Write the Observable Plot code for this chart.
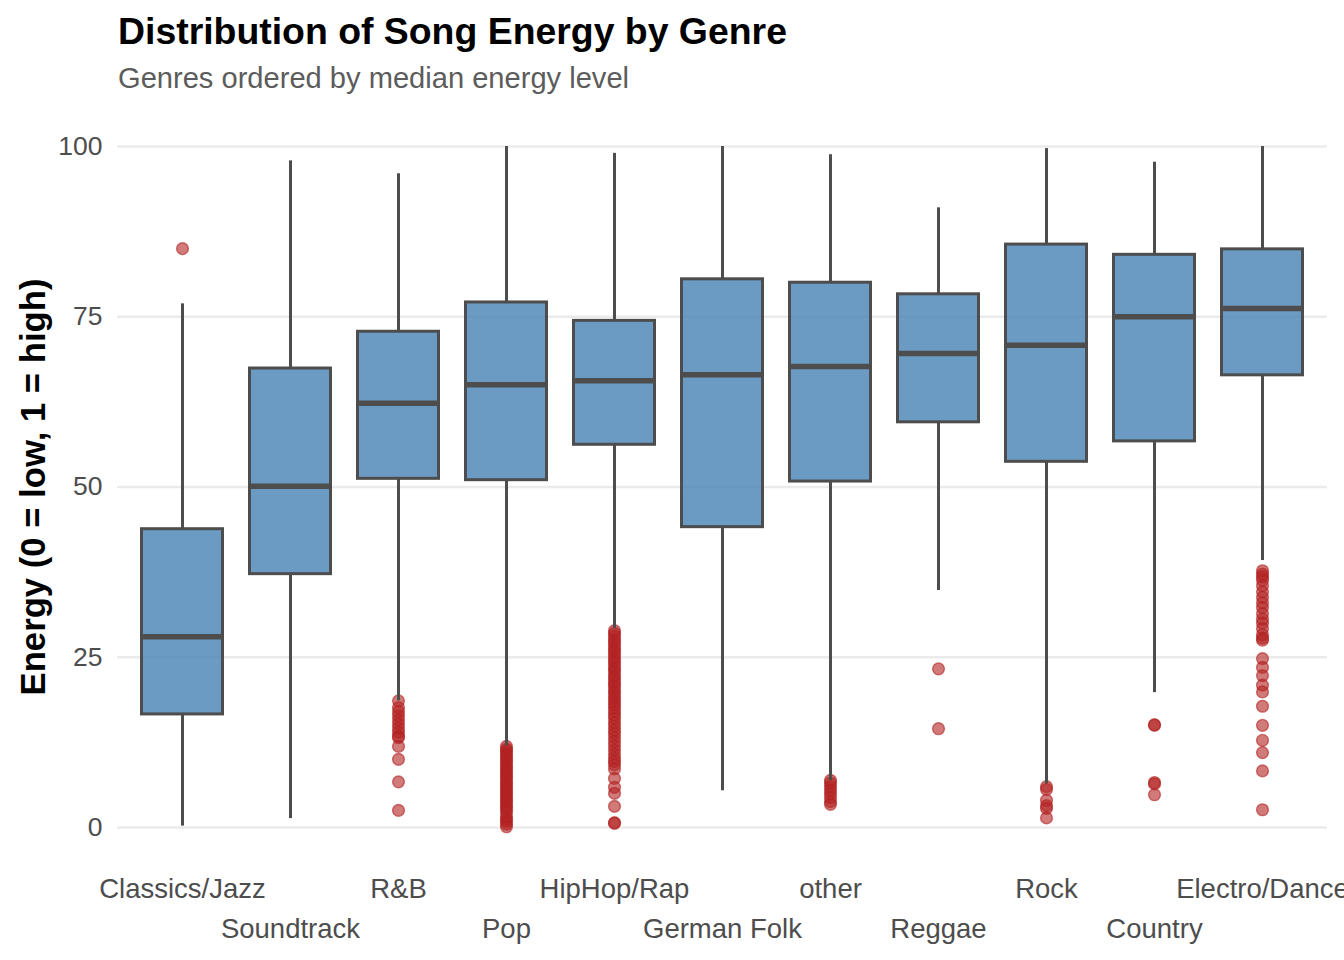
<!DOCTYPE html>
<html>
<head>
<meta charset="utf-8">
<script src="https://cdn.jsdelivr.net/npm/d3@7"></script>
<script src="https://cdn.jsdelivr.net/npm/@observablehq/plot@0.6"></script>
<style>
  body { margin: 0; background: #fff; font-family: "Liberation Sans", Arial, sans-serif; }
  #wrap { position: relative; width: 1344px; height: 960px; overflow: hidden; }
  #title { position: absolute; left: 118px; top: 13px; font-size: 37.4px; line-height: 37px; font-weight: bold; color: #000; white-space: nowrap; }
  #subtitle { position: absolute; left: 118px; top: 64px; font-size: 29.1px; line-height: 29px; color: #5c5c5c; white-space: nowrap; }
  #chart { position: absolute; left: 0; top: 100px; }
</style>
</head>
<body>
<div id="wrap">
  <div id="title">Distribution of Song Energy by Genre</div>
  <div id="subtitle">Genres ordered by median energy level</div>
  <div id="chart"></div>
</div>
<script>
const genres = ["Classics/Jazz", "Soundtrack", "R&B", "Pop", "HipHop/Rap", "German Folk", "other", "Reggae", "Rock", "Country", "Electro/Dance"];
const whiskerLow  = [0.2, 1.3, 18.6, 12.0, 29.2, 5.4, 6.9, 34.8, 6.4, 19.8, 39.2];
const q1          = [16.6, 37.2, 51.2, 51.0, 56.2, 44.1, 50.8, 59.5, 53.7, 56.7, 66.4];
const median      = [28.0, 50.1, 62.3, 65.0, 65.6, 66.5, 67.7, 69.6, 70.8, 75.0, 76.2];
const q3          = [43.8, 67.4, 72.8, 77.1, 74.4, 80.5, 80.0, 78.3, 85.6, 84.1, 84.9];
const whiskerHigh = [76.9, 97.9, 96.0, 100.0, 99.0, 100.0, 98.8, 91.0, 99.7, 97.7, 100.0];

const outliersClassics = [85.0];
const outliersRnB = [18.6, 17.6, 17.0, 16.4, 15.8, 15.2, 14.6, 14.0, 13.4, 13.2, 11.9, 10.0, 6.7, 2.5];
const outliersPop = [11.9, 11.5, 11.2, 10.8, 10.5, 10.1, 9.8, 9.4, 9.0, 8.7, 8.3, 8.0, 7.6, 7.3, 6.9, 6.5, 6.2, 5.8, 5.5, 5.1, 4.8, 4.4, 4.0, 3.7, 3.3, 3.0, 2.6, 2.2, 1.6, 1.2, 0.9, 0.5, 0.1];
const outliersHipHop = [28.9, 28.5, 28.1, 27.6, 27.2, 26.8, 26.3, 25.9, 25.5, 25.0, 24.6, 24.2, 23.7, 23.3, 22.9, 22.4, 22.0, 21.5, 21.1, 20.7, 20.2, 19.8, 19.3, 18.9, 18.4, 18.0, 17.5, 17.0, 16.5, 16.0, 15.4, 14.9, 14.3, 13.8, 13.2, 12.6, 12.0, 11.4, 10.8, 10.2, 9.7, 9.2, 8.6, 7.2, 5.9, 5.0, 3.1, 0.6, 0.7];
const outliersOther = [6.9, 6.5, 6.0, 5.5, 5.0, 4.4, 3.8, 3.4];
const outliersReggae = [23.3, 14.5];
const outliersRock = [6.0, 5.6, 4.0, 3.2, 2.8, 1.4];
const outliersCountry = [15.1, 15.0, 6.6, 6.4, 4.8];
const outliersElectro = [37.7, 37.2, 36.8, 36.3, 35.5, 34.6, 33.8, 33.0, 32.3, 31.4, 30.6, 30.0, 29.2, 28.3, 27.8, 27.5, 24.8, 23.5, 22.3, 20.9, 19.9, 17.8, 15.0, 12.8, 11.0, 8.3, 2.6];

const outlierGroups = [
  ["Classics/Jazz", outliersClassics],
  ["R&B", outliersRnB],
  ["Pop", outliersPop],
  ["HipHop/Rap", outliersHipHop],
  ["other", outliersOther],
  ["Reggae", outliersReggae],
  ["Rock", outliersRock],
  ["Country", outliersCountry],
  ["Electro/Dance", outliersElectro]
];

const yTicks = [0, 25, 50, 75, 100];
const yLabel = "Energy (0 = low, 1 = high)";

const stats = genres.map((g, i) => ({
  genre: g, lo: whiskerLow[i], q1: q1[i], med: median[i], q3: q3[i], hi: whiskerHigh[i]
}));
const outliers = outlierGroups.flatMap(([g, vals]) => vals.map(v => ({genre: g, energy: v})));

const inset = 13.5;
const boxStroke = "#4D4D4D";

const chart = Plot.plot({
  width: 1344,
  height: 860,
  marginTop: 12,
  marginBottom: 99,
  marginLeft: 117,
  marginRight: 17,
  style: {fontFamily: "'Liberation Sans', Arial, sans-serif", fontSize: "26.5px", background: "white"},
  x: {type: "band", domain: genres, paddingInner: 0, paddingOuter: 0.1, axis: null},
  y: {domain: [-5, 105], axis: null},
  marks: [
    Plot.ruleY(yTicks, {stroke: "#EBEBEB", strokeWidth: 2.6}),
    Plot.dot(outliers, {x: "genre", y: "energy", r: 5.9, fill: "firebrick", fillOpacity: 0.6, stroke: "firebrick", strokeOpacity: 0.6, strokeWidth: 1.4}),
    Plot.ruleX(stats, {x: "genre", y1: "lo", y2: "q1", stroke: boxStroke, strokeWidth: 3}),
    Plot.ruleX(stats, {x: "genre", y1: "q3", y2: "hi", stroke: boxStroke, strokeWidth: 3}),
    Plot.barY(stats, {x: "genre", y1: "q1", y2: "q3", fill: "steelblue", fillOpacity: 0.8, stroke: boxStroke, strokeWidth: 3, insetLeft: inset, insetRight: inset}),
    Plot.tickY(stats, {x: "genre", y: "med", stroke: boxStroke, strokeWidth: 5.5, insetLeft: inset, insetRight: inset}),
    Plot.axisY({ticks: yTicks, tickSize: 0, tickPadding: 15, color: "#4D4D4D", fontSize: 26.5, label: null}),
    Plot.axisX({ticks: genres.filter((d, i) => i % 2 === 0), tickSize: 0, tickPadding: 17, color: "#4D4D4D", fontSize: 27.5, label: null}),
    Plot.axisX({ticks: genres.filter((d, i) => i % 2 === 1), tickSize: 0, tickPadding: 57, color: "#4D4D4D", fontSize: 27.5, label: null}),
    Plot.text([yLabel], {frameAnchor: "left", textAnchor: "middle", text: d => d, rotate: -90, dx: -84, fontSize: 34.7, fontWeight: "bold", fill: "#000"})
  ]
});
document.getElementById("chart").appendChild(chart);
</script>
</body>
</html>
